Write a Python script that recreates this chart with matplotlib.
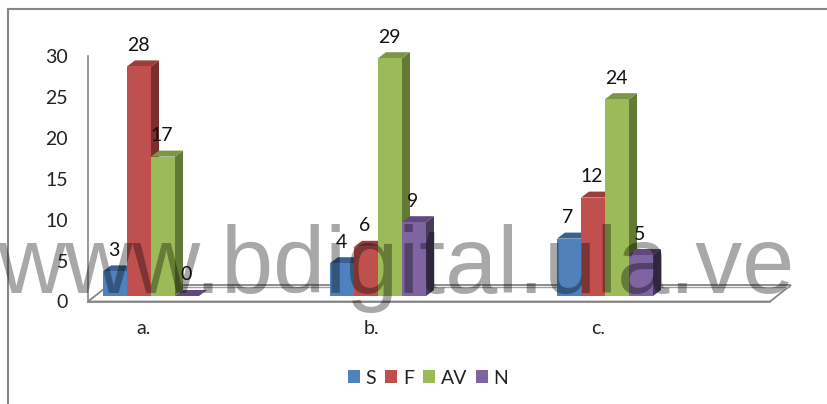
import matplotlib
matplotlib.use("Agg")
import matplotlib.pyplot as plt
from matplotlib.lines import Line2D
from matplotlib.patches import Patch, Polygon

categories = ["a.", "b.", "c."]
series_names = ["S", "F", "AV", "N"]
s_values = [3, 4, 7]
f_values = [28, 6, 12]
av_values = [17, 29, 24]
n_values = [0, 9, 5]
y_ticks = [0, 5, 10, 15, 20, 25, 30]
front_colors = ["#4F81BD", "#C0504D", "#9BBB59", "#8064A2"]
side_colors = ["#2F4D71", "#7A2F2D", "#637A36", "#4A3A5F"]
top_colors = ["#3A6191", "#9A3E3C", "#7C9645", "#63487F"]

W, H = 827, 404
plt.rcParams["font.family"] = ["Lato", "DejaVu Sans"]
fig = plt.figure(figsize=(W / 100, H / 100), dpi=100, facecolor="white")


def rect(l, t, r, b):
    return [l / W, 1 - b / H, (r - l) / W, (b - t) / H]


UNIT = 227.0
GREY = "#868686"

# Wall axes: holds the value axis and category labels
wall = fig.add_axes(rect(88, 56, 770, 301.5), facecolor="none")
wall.set_xlim((88 - 144) / UNIT, (770 - 144) / UNIT)
wall.set_ylim(0, 30)
wall.set_xticks(range(3), categories)
wall.set_yticks(y_ticks)
wall.tick_params(axis="both", length=0, labelsize=14, labelcolor="#222222")
wall.tick_params(axis="y", pad=14.5)
wall.tick_params(axis="x", pad=13)
for name in ("top", "right"):
    wall.spines[name].set_visible(False)
for name in ("left", "bottom"):
    wall.spines[name].set_color(GREY)
    wall.spines[name].set_linewidth(1.2)

# Bars axes
PX_Y = 8.2
ax = fig.add_axes(rect(95, 296 - 30 * PX_Y, 777, 296), facecolor="none")
ax.set_xlim((95 - 151) / UNIT, (777 - 151) / UNIT)
ax.set_ylim(0, 30)
ax.axis("off")

# Floor
fx = lambda p: (p - 151) / UNIT
fy = lambda p: (296 - p) / PX_Y
floor = [(fx(88), fy(301.5)), (fx(770), fy(301.5)), (fx(791), fy(285)), (fx(109), fy(285))]
ax.add_patch(Polygon(floor, closed=True, facecolor="white", edgecolor=GREY,
                     linewidth=1.3, clip_on=False, zorder=1))
ax.plot([fx(111), fx(789)], [fy(286.5), fy(286.5)], color="#A0A0A0", lw=1,
        clip_on=False, zorder=1)

BAR = 24 / UNIT
DX = 8 / UNIT
DY = 6 / PX_Y
all_values = [s_values, f_values, av_values, n_values]
z = 2
for k, values in enumerate(all_values):
    xs = [i + (k - 1.5) * BAR for i in range(3)]
    ax.bar(xs, values, width=BAR, color=front_colors[k], zorder=z + 0.2)
    for x, v in zip(xs, values):
        r = x + BAR / 2
        l = x - BAR / 2
        ax.add_patch(Polygon([(r, 0), (r + DX, DY), (r + DX, v + DY), (r, v)],
                             facecolor=side_colors[k], edgecolor="none", zorder=z))
        ax.add_patch(Polygon([(l, v), (r, v), (r + DX, v + DY), (l + DX, v + DY)],
                             facecolor=top_colors[k], edgecolor="none", zorder=z + 0.1))
        ax.annotate(str(v), (x, v), xytext=(-1, 21), textcoords="offset pixels",
                    ha="center", va="center", fontsize=14, color="#111111", zorder=10)
    z += 1

handles = [Patch(facecolor=c, edgecolor="none", label=n)
           for c, n in zip(front_colors, series_names)]
fig.legend(handles=handles, ncol=4, loc="center", bbox_to_anchor=(428 / W, 1 - 378 / H),
           frameon=False, fontsize=14, handlelength=0.62, handleheight=0.62,
           handletextpad=0.3, columnspacing=0.45, labelcolor="#222222")

# Outer frame (left and top only)
fig.add_artist(Line2D([8 / W, 8 / W], [0, 1 - 9 / H], color=GREY, lw=1.5))
fig.add_artist(Line2D([8 / W, 1], [1 - 9 / H, 1 - 9 / H], color=GREY, lw=1.5))

# Watermark
fig.text(-3 / W, 1 - 293 / H, "www.bdigital.ula.ve", family="Liberation Sans",
         fontsize=67.5, color="black", alpha=0.34, ha="left", va="baseline", zorder=20)

fig.savefig("out.png", dpi=100)
